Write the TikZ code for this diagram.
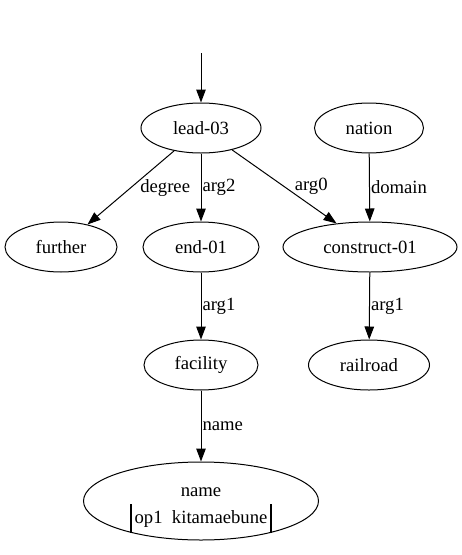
\documentclass[tikz,border=0pt]{standalone}
\usepackage{fontspec}
\setmainfont{Liberation Serif}
\usetikzlibrary{arrows.meta,shapes.geometric}

\begin{document}
\begin{tikzpicture}[x=1pt,y=-1pt,
  every node/.style={font=\fontsize{18.67}{22}\selectfont},
  >={Triangle[length=13pt,width=9.5pt]},
  edge/.style={->,line width=1pt},
  lbl/.style={anchor=west,inner sep=0pt}]
\tikzstyle{concept}=[draw,ellipse,line width=1pt,inner sep=0pt,minimum height=50pt]
\useasboundingbox (0,0) rectangle (462,555);

% concepts
\coordinate (top) at (201,53);
\node[concept,minimum width=120pt] (lead) at (201,128) {lead-03};
\node[concept,minimum width=109pt] (nation) at (369,128) {nation};
\node[concept,minimum width=112pt] (further) at (61,247) {further};
\node[concept,minimum width=116pt] (end) at (201,247) {end-01};
\node[concept,minimum width=174pt] (construct) at (370,247) {construct-01};
\node[concept,minimum width=114pt] (facility) at (201,365) {facility};
\node[concept,minimum width=121pt] (railroad) at (369,365) {railroad};
\node[concept,minimum width=235pt,minimum height=78pt] (name) at (201,501)
  {\raisebox{-10pt}[20pt][20pt]{\begin{tabular}{@{}c@{}}name\\[1pt]
   \rule[-9pt]{1.3pt}{29pt}\,op1\ \ kitamaebune\,\rule[-9pt]{1.3pt}{29pt}\end{tabular}}};

% relations
\draw[edge] (top) -- (lead);
\draw[edge] (lead) -- node[lbl,xshift=9pt] {degree} (further);
\draw[edge] (lead) -- node[lbl,xshift=1pt] {arg2} (end);
\draw[edge] (lead) -- node[lbl,xshift=10pt] {arg0} (construct);
\draw[edge] (nation) -- node[lbl,xshift=1pt] {domain} (construct);
\draw[edge] (end) -- node[lbl,xshift=1pt] {arg1} (facility);
\draw[edge] (construct) -- node[lbl,xshift=1pt] {arg1} (railroad);
\draw[edge] (facility) -- node[lbl,xshift=1pt] {name} (name);

\end{tikzpicture}
\end{document}
